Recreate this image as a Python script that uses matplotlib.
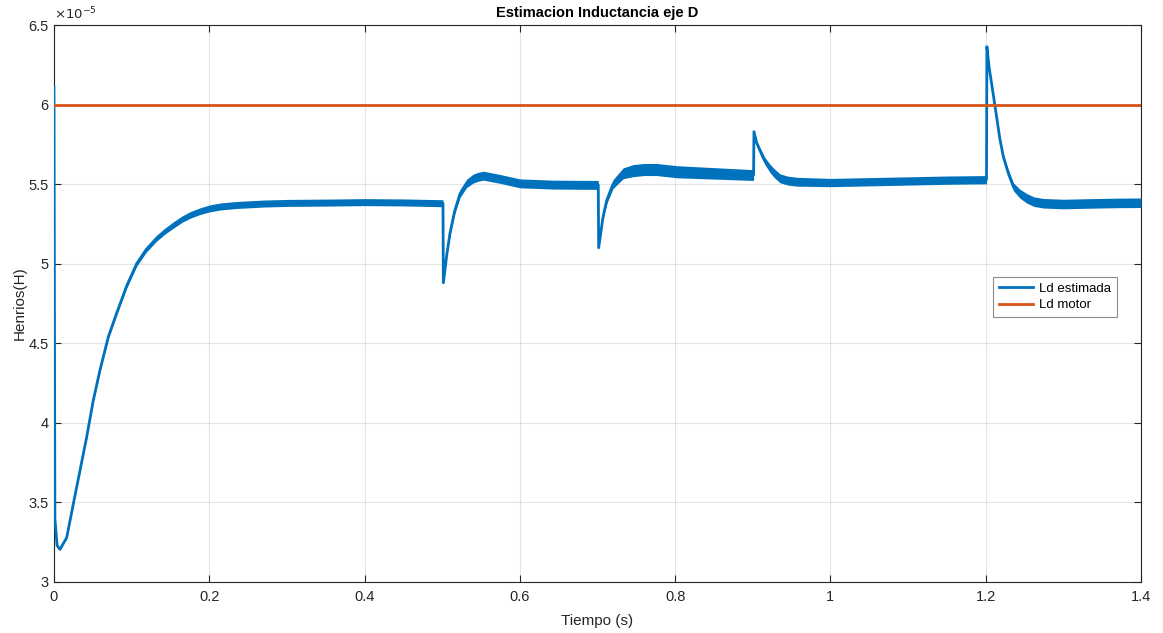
import numpy as np
import matplotlib
matplotlib.use('Agg')
import matplotlib.pyplot as plt
from matplotlib.ticker import FuncFormatter, MultipleLocator

plt.rcParams['font.family'] = ['Liberation Sans', 'DejaVu Sans']

# tiempo (s) y Ld estimada (en unidades de 1e-5 H)
t_est = [0.0, 0.0012, 0.004, 0.0077, 0.0164, 0.0249, 0.0335, 0.0421, 0.0506, 0.0592,
         0.070, 0.0808, 0.0936, 0.1065, 0.119, 0.1322, 0.143, 0.1537, 0.165, 0.1752,
         0.188, 0.2009, 0.215, 0.2353,
         0.27, 0.30, 0.35, 0.40, 0.45, 0.501,
         0.5015, 0.506, 0.510, 0.516, 0.523, 0.5315, 0.540, 0.546, 0.553, 0.5745, 0.600,
         0.643, 0.701,
         0.7015, 0.707, 0.712, 0.720, 0.733, 0.746, 0.760, 0.776, 0.802, 0.849, 0.901,
         0.9015, 0.905, 0.909, 0.915, 0.922, 0.928, 0.935, 0.945, 0.957, 1.0, 1.05, 1.1,
         1.15, 1.201,
         1.2015, 1.2045, 1.214, 1.218, 1.2227, 1.229, 1.2356, 1.244, 1.2528, 1.262, 1.274,
         1.3, 1.326, 1.37, 1.4]
ld_est = [6.11, 3.40, 3.23, 3.205, 3.279, 3.49, 3.70, 3.91, 4.14, 4.33,
          4.54, 4.69, 4.86, 5.00, 5.09, 5.16, 5.205, 5.243, 5.28, 5.306,
          5.33, 5.348, 5.36, 5.369,
          5.378, 5.382, 5.384, 5.387, 5.385, 5.38,
          4.88, 5.06, 5.19, 5.33, 5.44, 5.505, 5.535, 5.546, 5.553, 5.533, 5.505,
          5.497, 5.495,
          5.10, 5.29, 5.40, 5.50, 5.568, 5.585, 5.592, 5.592, 5.578, 5.568, 5.557,
          5.83, 5.76, 5.714, 5.65, 5.60, 5.567, 5.537, 5.522, 5.515, 5.51, 5.515, 5.52,
          5.525, 5.528,
          6.364, 6.23, 5.924, 5.79, 5.672, 5.57, 5.484, 5.44, 5.411, 5.39, 5.38,
          5.375, 5.378, 5.382, 5.383]
# semi-ancho de la banda de ruido (1e-5 H)
ruido = [0.0, 0.0, 0.004, 0.005, 0.005, 0.006, 0.007, 0.008, 0.009, 0.010,
         0.011, 0.012, 0.014, 0.016, 0.017, 0.018, 0.019, 0.020, 0.020, 0.021,
         0.021, 0.022, 0.022, 0.022,
         0.022, 0.022, 0.022, 0.022, 0.022, 0.022,
         0.004, 0.01, 0.015, 0.02, 0.024, 0.026, 0.028, 0.028, 0.028, 0.028, 0.028,
         0.028, 0.028,
         0.004, 0.015, 0.022, 0.028, 0.034, 0.038, 0.038, 0.038, 0.038, 0.036, 0.034,
         0.004, 0.012, 0.018, 0.022, 0.026, 0.028, 0.028, 0.028, 0.028, 0.026, 0.026,
         0.026, 0.026, 0.026,
         0.003, 0.006, 0.012, 0.015, 0.018, 0.022, 0.025, 0.028, 0.03, 0.03, 0.03,
         0.03, 0.03, 0.03, 0.03]

ld_motor = 6.0e-5
t_motor = [0.0, 1.4]

x_ticks = [0, 0.2, 0.4, 0.6, 0.8, 1.0, 1.2, 1.4]

azul = '#0072BD'
naranja = '#D95319'
gris = '#262626'

t = np.array(t_est)
ld = np.array(ld_est) * 1e-5
r = np.array(ruido) * 1e-5

fig = plt.figure(figsize=(11.63, 6.33), dpi=100)
ax = fig.add_axes([0.0464, 0.0806, 0.9347, 0.8799])

ax.fill_between(t, ld - r, ld + r, color=azul, lw=0, zorder=3)
ax.plot(t, ld, color=azul, lw=2.0, label='Ld estimada', zorder=4)
ax.plot(t_motor, [ld_motor, ld_motor], color=naranja, lw=2.0, label='Ld motor', zorder=4)

ax.set_xlim(0, 1.4)
ax.set_ylim(3e-5, 6.5e-5)
ax.set_xticks(x_ticks)
ax.yaxis.set_major_locator(MultipleLocator(0.5e-5))
ax.xaxis.set_major_formatter(FuncFormatter(lambda v, p: '%g' % round(v, 3)))
ax.yaxis.set_major_formatter(FuncFormatter(lambda v, p: '%g' % round(v * 1e5, 3)))

ax.grid(True, color=gris, alpha=0.12, lw=0.8)
ax.set_axisbelow(True)
for s in ax.spines.values():
    s.set_color(gris)
    s.set_linewidth(0.8)
ax.tick_params(direction='in', length=5, width=0.8, colors=gris, labelsize=10.5,
               top=True, right=True)
ax.tick_params(axis='x', pad=6)
ax.tick_params(axis='y', pad=4)

ax.text(0.0, 1.004, r'$\times10^{-5}$', transform=ax.transAxes, fontsize=9.5,
        color=gris, va='bottom', ha='left')

ax.set_title('Estimacion Inductancia eje D', fontsize=10.5, fontweight='bold', pad=6)
ax.set_xlabel('Tiempo (s)', fontsize=11, color=gris, labelpad=7)
ax.set_ylabel('Henrios(H)', fontsize=11, color=gris)
ax.yaxis.set_label_coords(-0.025, 0.5)

leg = ax.legend(loc='upper left', bbox_to_anchor=(0.864, 0.548), borderaxespad=0,
                fontsize=9.5, fancybox=False, framealpha=1, edgecolor='#8c8c8c',
                handlelength=2.6, handletextpad=0.4, borderpad=0.45, labelspacing=0.3)
leg.get_frame().set_linewidth(0.8)

fig.savefig('out.png', dpi=100)
